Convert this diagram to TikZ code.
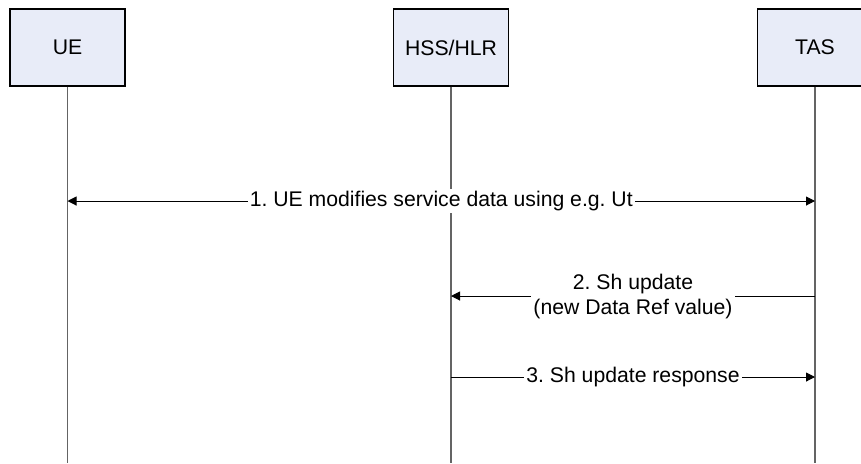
\documentclass[tikz,border=0pt]{standalone}
\usepackage{fontspec}
\setmainfont{Liberation Sans}
\usetikzlibrary{arrows.meta}
\frenchspacing

\definecolor{boxfill}{RGB}{232,236,248}
\definecolor{lifegray}{RGB}{100,100,100}

\tikzset{entity/.style = {draw, fill=boxfill, line width=0.6pt,
                          minimum width=57.5pt, minimum height=38.5pt, inner sep=0pt},
         lifeline/.style = {draw=lifegray, line width=0.7pt},
         msg/.style = {-{Triangle[length=4.5pt,width=4.5pt]}, line width=0.5pt},
         msglabel/.style = {fill=white, inner sep=1pt, align=center}}

\begin{document}
\begin{tikzpicture}%
        [x=0.5pt, y=-0.5pt, font=\fontsize{10.6}{12.5}\selectfont]
        \clip (0,0) rectangle (861,463);

        % entities
        \node [entity] (ue)  at (67.5, 47.5) {UE};
        \node [entity] (hss) at (451, 47.5) {HSS/HLR};
        \node [entity] (tas) at (815, 47.5) {TAS};

        % lifelines
        \coordinate (ue end)  at (67.5, 463);
        \coordinate (hss end) at (451, 463);
        \coordinate (tas end) at (815, 463);
        \draw [lifeline] (ue) -- (ue end);
        \draw [lifeline] (hss) -- (hss end);
        \draw [lifeline] (tas) -- (tas end);

        % message points
        \coordinate (ue m1)  at (67.5, 201);
        \coordinate (tas m1) at (815, 201);
        \coordinate (tas m2) at (815, 296);
        \coordinate (hss m2) at (451, 296);
        \coordinate (hss m3) at (451, 377);
        \coordinate (tas m3) at (815, 377);

        \draw [msg, {Triangle[length=4.5pt,width=4.5pt]}-{Triangle[length=4.5pt,width=4.5pt]}]
              (ue m1) to node [msglabel] {1. UE modifies service data using e.g. Ut} (tas m1);
        \draw [msg] (tas m2) to node [msglabel] {2. Sh update\\(new Data Ref value)} (hss m2);
        \draw [msg] (hss m3) to node [msglabel] {3. Sh update response} (tas m3);
\end{tikzpicture}
\end{document}
